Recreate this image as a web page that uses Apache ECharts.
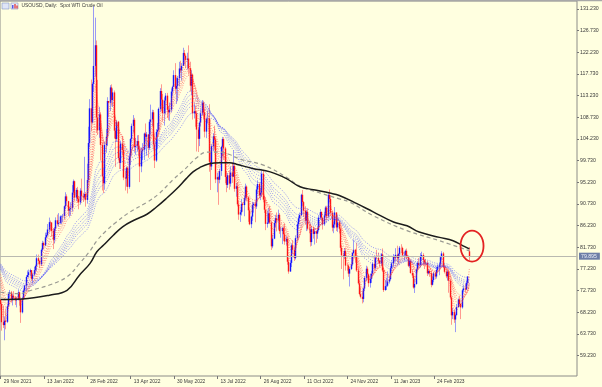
<!DOCTYPE html>
<html><head><meta charset="utf-8">
<script src="https://cdn.jsdelivr.net/npm/echarts@6/dist/echarts.min.js"></script>
<style>html,body{margin:0;padding:0;background:#ffffe0;}#c{width:602px;height:387px;}</style>
</head><body><div id="c"></div>
<script>
// ---------- DATA ----------
const tickLabels = ['29 Nov 2021','13 Jan 2022','28 Feb 2022','13 Apr 2022','30 May 2022','13 Jul 2022','26 Aug 2022','11 Oct 2022','24 Nov 2022','11 Jan 2023','24 Feb 2023'];
const barsPerLabel = 32;
const totalSlots = 426; // bars + empty right margin of the chart
const yTicks = [59.23,63.73,68.23,72.73,77.23,81.73,86.23,90.73,95.23,99.73,104.23,108.73,113.23,117.73,122.23,126.73,131.23];
const lastPrice = 79.895;
const openGaps = {0:70.8, 346:80.9};

const closes = [
69.95,66.18,65.57,66.50,66.26,69.49,72.05,72.36,70.94,71.67,
71.29,70.73,70.87,72.38,70.86,68.23,71.12,72.76,73.79,75.57,
75.98,76.56,76.99,75.21,76.08,76.99,77.85,79.46,78.90,78.23,
81.22,82.64,82.12,83.82,84.30,85.43,86.96,86.90,85.14,83.31,
85.60,87.35,86.61,86.82,88.15,88.20,88.26,90.27,92.31,91.32,
89.36,89.66,89.88,93.10,95.46,92.07,93.66,91.76,91.07,93.50,
92.35,92.10,92.81,91.59,95.72,103.41,110.60,107.67,115.68,119.40,
123.70,108.70,106.02,109.33,103.01,96.44,95.04,102.98,104.70,112.12,
111.76,114.93,112.34,113.90,105.96,104.24,107.82,100.28,99.27,103.28,
101.96,96.23,96.03,98.26,94.29,100.60,104.25,106.95,108.21,102.56,
102.75,103.79,102.07,98.54,101.70,102.02,105.36,104.69,105.17,102.41,
107.81,108.26,109.77,103.09,99.76,105.71,106.13,110.49,114.20,112.40,
109.59,112.21,113.23,110.29,109.77,110.33,114.09,115.07,117.50,114.67,
115.26,116.87,118.87,118.50,119.41,122.11,121.51,120.67,120.93,118.93,
115.31,117.59,109.56,110.00,109.52,106.19,104.27,107.62,109.57,111.76,
109.78,105.76,108.43,108.50,99.50,98.53,102.73,104.79,104.09,95.84,
96.30,95.78,97.59,102.60,104.22,102.26,96.35,94.70,96.70,94.98,
97.26,96.42,98.62,93.89,94.42,90.66,88.54,89.01,90.76,90.50,
91.93,94.34,92.09,89.41,86.53,88.11,90.50,90.77,90.23,93.74,
94.89,92.52,93.06,97.01,91.64,89.55,86.61,86.87,88.80,86.88,
81.94,83.54,86.79,87.78,87.31,88.48,85.10,85.11,85.73,84.45,
82.94,83.49,78.74,76.71,78.50,82.15,81.23,79.49,83.63,86.52,
87.76,88.45,92.64,91.13,89.35,87.27,89.11,85.61,85.46,82.82,
85.55,84.51,85.05,84.58,85.32,87.91,89.08,87.90,86.53,88.37,
90.00,88.17,92.61,91.79,88.91,85.83,86.47,88.96,85.87,86.92,
85.59,81.64,80.08,79.73,80.95,77.94,77.90,76.28,77.24,78.20,
80.55,81.22,79.98,76.93,74.25,72.01,71.46,71.02,73.17,75.39,
77.28,76.11,74.29,75.19,76.23,78.29,77.49,79.56,79.53,78.96,
78.40,80.26,76.93,72.84,73.67,73.77,74.63,75.12,77.41,78.39,
79.86,79.60,80.18,79.48,80.33,81.64,81.62,80.13,80.15,81.01,
79.68,77.90,78.87,76.41,75.88,73.39,74.11,77.14,78.47,78.06,
79.72,80.14,79.06,78.59,78.49,76.34,76.80,76.36,73.95,74.95,
76.32,75.68,77.05,77.69,78.16,79.68,80.46,77.58,76.66,75.72,
76.68,74.80,71.33,67.61,68.35,66.74,67.64,69.33,70.90,69.96,
69.26,72.81,73.20,72.97,74.37,75.67,79.90];

const highs = [
70.97,70.24,69.64,67.40,69.01,69.97,72.40,72.88,72.68,72.10,
72.63,71.53,71.46,72.93,72.52,70.90,71.46,73.00,73.95,75.90,
76.92,77.12,77.30,77.00,76.46,77.64,78.14,80.24,80.23,79.12,
81.48,83.09,82.93,84.78,84.80,86.57,87.91,87.29,86.43,85.74,
85.96,87.95,88.54,88.84,88.38,88.35,88.66,90.43,93.17,92.73,
91.40,90.15,91.09,94.66,95.82,95.60,94.06,94.29,92.35,94.00,
96.00,93.07,100.54,93.24,99.10,106.78,112.51,116.57,116.00,131.80,
129.44,124.69,116.51,110.91,109.81,103.53,98.19,103.63,106.28,112.91,
112.14,115.40,115.58,114.74,114.30,106.54,108.19,108.00,101.31,103.90,
104.84,102.97,97.47,98.50,98.60,101.19,104.41,107.43,109.20,108.62,
104.43,105.00,105.06,102.40,102.42,103.37,105.56,107.45,105.69,105.24,
108.31,111.37,110.31,110.26,104.00,106.29,107.57,110.76,114.78,115.59,
113.57,112.89,113.78,113.80,111.10,111.80,114.73,115.31,118.50,119.98,
117.00,117.34,120.26,120.48,120.00,123.18,122.72,121.79,122.15,123.68,
120.28,118.52,117.83,111.50,111.07,110.00,106.67,107.89,110.34,112.33,
112.18,110.52,108.73,110.00,111.45,101.59,103.17,105.46,107.00,104.50,
97.24,96.63,98.04,102.82,104.67,104.62,102.60,97.57,97.18,97.70,
98.53,99.34,101.88,99.20,95.11,95.23,91.37,89.53,91.80,91.06,
92.47,94.96,94.60,92.30,89.81,88.31,91.20,91.14,91.27,94.33,
95.65,95.27,94.05,97.63,97.77,92.33,89.65,89.39,89.90,90.39,
87.20,84.32,87.30,88.48,88.96,89.56,88.85,85.91,85.98,86.06,
86.73,84.06,83.90,79.51,79.06,82.56,83.23,81.85,84.22,86.95,
88.20,88.95,92.85,93.64,91.35,90.26,89.54,89.85,86.51,86.46,
86.06,86.08,85.78,85.19,85.87,88.42,89.66,89.19,87.92,89.13,
90.34,90.37,92.94,93.74,92.56,89.39,87.11,90.10,89.03,88.40,
87.08,85.83,82.20,80.60,81.59,81.68,78.40,78.22,77.59,79.91,
80.73,83.34,81.42,82.66,77.53,74.93,73.43,72.75,73.38,75.74,
77.91,77.73,76.25,76.28,76.87,78.67,79.88,79.86,81.21,80.65,
79.06,80.54,81.50,77.42,74.96,75.44,76.74,75.70,77.77,78.79,
80.34,80.00,81.55,82.07,80.55,81.99,82.38,81.88,80.84,81.28,
81.48,79.70,79.04,79.00,77.13,76.40,75.24,77.34,78.82,79.53,
80.52,80.82,80.50,79.23,79.34,78.90,77.20,77.10,76.82,75.72,
76.60,76.57,77.69,78.19,78.61,79.80,80.92,80.78,78.00,77.25,
77.05,76.98,75.10,71.55,69.14,68.87,67.95,69.98,71.13,71.66,
70.02,73.13,73.87,74.05,74.71,75.72,81.81];

const lows = [
68.70,64.43,64.97,62.43,64.71,66.00,69.30,71.21,70.25,69.66,
70.83,69.76,69.26,70.70,69.61,66.04,68.00,70.86,72.39,72.64,
75.53,75.41,75.71,74.76,74.27,75.72,76.24,76.82,78.29,77.41,
77.90,80.90,81.38,81.95,83.60,84.07,84.81,85.20,83.92,81.37,
82.54,85.08,86.27,86.02,86.58,86.55,87.00,87.61,89.69,90.38,
88.30,88.08,88.32,89.16,92.65,91.27,91.33,90.96,89.64,90.60,
91.40,91.20,91.65,90.19,90.80,95.21,102.50,105.90,107.42,114.00,
117.17,105.46,105.06,104.48,99.76,93.53,93.00,93.69,101.37,102.76,
108.86,110.06,111.15,110.88,104.36,98.44,103.61,99.80,98.00,98.00,
100.82,95.68,93.53,94.35,92.93,93.90,98.82,103.53,105.55,101.54,
100.95,101.66,100.62,95.28,97.33,99.85,99.84,103.66,100.78,100.35,
101.94,105.17,106.92,102.09,98.20,99.48,102.26,105.96,109.85,110.18,
107.90,107.00,109.45,108.58,108.14,108.00,109.77,113.21,115.00,113.60,
111.51,112.07,115.18,118.03,116.36,119.41,119.73,118.93,118.64,117.62,
114.07,113.34,108.27,108.50,106.78,101.64,101.53,102.75,106.82,109.11,
108.28,104.56,104.40,107.50,97.43,93.64,97.79,101.68,102.22,95.07,
93.17,90.56,95.04,96.58,100.67,99.85,95.05,93.18,94.05,93.70,
94.33,95.11,96.39,93.29,92.24,90.23,87.45,87.01,88.34,89.14,
88.19,91.44,91.27,87.03,86.33,85.73,87.24,88.94,86.94,89.71,
92.78,91.95,91.53,92.17,91.08,88.86,85.30,85.82,86.60,86.56,
81.20,81.55,83.43,85.83,85.04,85.40,84.53,83.74,82.39,83.07,
82.26,82.13,78.12,76.25,76.65,77.63,80.36,78.89,79.20,83.17,
85.73,87.01,88.20,90.39,88.02,86.46,85.11,85.24,84.65,81.91,
82.05,83.54,82.32,82.65,83.50,85.00,87.43,87.29,85.43,86.20,
88.06,87.51,87.90,91.13,88.20,85.05,84.67,85.68,85.11,84.95,
84.63,80.88,77.24,75.08,79.31,76.90,76.90,75.61,73.60,77.02,
77.91,80.37,78.54,76.64,73.98,71.76,71.12,70.08,70.32,72.65,
74.75,75.23,73.53,73.37,74.37,76.05,76.88,77.06,79.26,78.31,
77.72,77.86,76.60,72.46,72.74,72.86,73.53,74.21,74.83,76.71,
77.68,78.80,78.81,78.70,78.28,79.78,80.81,79.91,79.00,79.69,
79.25,77.64,77.48,76.26,75.36,73.15,72.25,73.98,76.79,77.61,
77.52,78.91,77.87,77.22,77.76,75.77,76.10,75.61,73.43,73.80,
74.48,75.09,75.24,76.59,75.94,77.60,79.06,77.40,76.31,75.33,
74.82,72.30,70.92,65.65,66.82,66.04,64.12,67.59,69.20,69.46,
66.82,69.00,72.34,72.30,72.91,74.12,79.00];

// slow averages (bar index, value)
const smaIdx = [0,16,36,49,58,66,71,76,83,90,98,108,115,122,130,137,142,147,154,162,169,174,186,199,211,221,231,243,250,263,275,290,300,309,324,334,341,346];
const smaVal = [70.9,71.0,71.8,72.8,75.9,78.4,80.8,82.2,84.2,86.0,87.3,88.6,90.1,91.8,93.9,96.0,97.4,98.3,99.1,99.3,99.3,99.0,98.1,97.4,96.0,94.3,93.7,93.0,92.5,90.8,89.1,87.0,86.2,84.9,83.8,83.1,82.1,81.4];
const emaLongIdx = [0,14,21,36,49,58,66,71,78,85,95,108,117,127,135,145,152,162,169,177,194,211,221,236,250,258,275,300,324,346];
const emaLongVal = [72.4,72.1,72.7,73.9,75.6,78.3,81.0,83.1,85.2,86.9,89.0,91.1,92.9,95.7,97.7,100.4,101.5,101.5,101.0,100.0,98.8,96.3,94.4,93.0,91.8,91.1,88.3,85.2,83.1,81.0];

// GMMA starting levels read at the left edge
const shortPeriods = [3,5,8,10,12,15];
const shortSeeds  = [71.0,72.5,74.0,74.8,75.4,76.1];
const longPeriods = [30,35,40,45,50,60];
const longSeeds   = [77.2,77.5,77.7,77.9,78.1,78.3];

// ---------- BUILD ----------
const opens = closes.map((c,i)=> openGaps[i] !== undefined ? openGaps[i] : closes[i-1]);
const fullOHLC = closes.map((c,i)=>{
  const o = opens[i];
  return [o, c, Math.min(lows[i],o,c), Math.max(highs[i],o,c)];
});
const bodies = closes.map((c,i)=>{
  const o = opens[i];
  return [o, c, Math.min(o,c), Math.max(o,c)];
});
function ema(p, seed){
  const k = 2/(p+1); let e = seed;
  return closes.map((c,i)=>{ if(i>0) e = e + k*(c-e); return +e.toFixed(3); });
}
const cats = [];
for(let i=0;i<totalSlots;i++){
  const k = i/barsPerLabel;
  cats.push(Number.isInteger(k) && k < tickLabels.length ? tickLabels[k] : '');
}

const FONT = 'Liberation Sans';
const series = [];
series.push({
  type:'candlestick', data: fullOHLC, barWidth: 1, z: 2,
  itemStyle:{color:'rgba(100,100,255,0.65)', color0:'rgba(255,100,100,0.65)', borderColor:'rgba(100,100,255,0.65)', borderColor0:'rgba(255,100,100,0.65)', borderWidth:1},
  markLine:{
    symbol:'none', silent:true, animation:false,
    lineStyle:{color:'#b9b9b0', width:1, type:'solid'},
    label:{show:true, position:'end', distance:2, formatter: lastPrice.toFixed(3),
      backgroundColor:'#6d7ea6', color:'#eef1fa', fontSize:5.2, fontFamily:FONT, padding:[1,3,1,2]},
    data:[{yAxis:lastPrice}]
  }
});
series.push({
  type:'candlestick', data: bodies, barWidth: 1.3, z: 3,
  itemStyle:{color:'#1414ff', color0:'#ff1414', borderColor:'#1414ff', borderColor0:'#ff1414', borderWidth:1.4}
});
shortPeriods.forEach((p,j)=>series.push({type:'line', data: ema(p, shortSeeds[j]), symbol:'none', z:4,
  lineStyle:{color:'rgba(255,60,60,0.55)', width:1, type:[1,1.5]}}));
longPeriods.forEach((p,j)=>series.push({type:'line', data: ema(p, longSeeds[j]), symbol:'none', z:4,
  lineStyle:{color:'rgba(60,60,255,0.55)', width:1, type:[1,1.5]}}));
series.push({type:'line', data: emaLongIdx.map((x,i)=>[x, emaLongVal[i]]), symbol:'none', smooth:0.4, z:5,
  lineStyle:{color:'#9a9a92', width:1.2, type:[4,3]}});
series.push({type:'line', data: smaIdx.map((x,i)=>[x, smaVal[i]]), symbol:'none', smooth:0.4, z:6,
  lineStyle:{color:'#1c1c1c', width:1.5}});

const chart = echarts.init(document.getElementById('c'), null, {renderer:'canvas'});
chart.setOption({
  backgroundColor:'#ffffe0',
  animation:false,
  grid:{left:0, top:1, width:577, height:375, show:true, borderColor:'#8c8c88', borderWidth:1, backgroundColor:'transparent'},
  xAxis:{
    type:'category', data: cats, boundaryGap:true,
    axisLine:{show:false},
    axisTick:{show:true, alignWithLabel:true, length:3, lineStyle:{color:'#777'}, interval:(i,v)=> v !== ''},
    axisLabel:{show:true, interval:(i,v)=> v !== '', align:'left', margin:3, padding:[0,0,0,3],
      fontSize:4.9, fontFamily:FONT, color:'#3a3a3a'},
    splitLine:{show:false}
  },
  yAxis:{
    type:'value', position:'right', min:55.01, max:132.89, scale:true,
    axisLine:{show:false},
    axisTick:{show:true, length:2, lineStyle:{color:'#777'}, customValues: yTicks},
    axisLabel:{show:true, margin:3, fontSize:5.2, fontFamily:FONT, color:'#3a3a3a', customValues: yTicks,
      formatter: v => v.toFixed(3)},
    splitLine:{show:false}
  },
  series
});

// annotation ellipse around the last bar, positioned through the chart's own scales
const ctr = chart.convertToPixel({gridIndex:0}, [348, 82.0]);
chart.setOption({
  graphic:[
    {type:'rect', shape:{x:0,y:0,width:602,height:1.2}, style:{fill:'#a8a8a8'}, silent:true},
    {type:'rect', shape:{x:2,y:3,width:7,height:6}, style:{fill:'#dfe5f7', stroke:'#8494c6', lineWidth:0.6}},
    {type:'rect', shape:{x:11,y:3,width:7,height:6}, style:{fill:'#eef0fb', stroke:'#8494c6', lineWidth:0.6}},
    {type:'rect', shape:{x:12.2,y:5,width:1.2,height:3.5}, style:{fill:'#3030e0'}},
    {type:'rect', shape:{x:14.4,y:4,width:1.2,height:4.5}, style:{fill:'#e02828'}},
    {type:'rect', shape:{x:16.4,y:5.5,width:1.2,height:3}, style:{fill:'#e02828'}},
    {type:'text', x:21.5, y:3.4, style:{text:'USOUSD, Daily:  Spot WTI Crude Oil', fontSize:4.9, fontFamily:FONT, fill:'#3a3a3a'}},
    {type:'ellipse', shape:{cx:ctr[0], cy:ctr[1], rx:11.5, ry:15.5}, style:{fill:'none', stroke:'#e32222', lineWidth:1.8}, z:100}
  ]
});
</script>
</body></html>
